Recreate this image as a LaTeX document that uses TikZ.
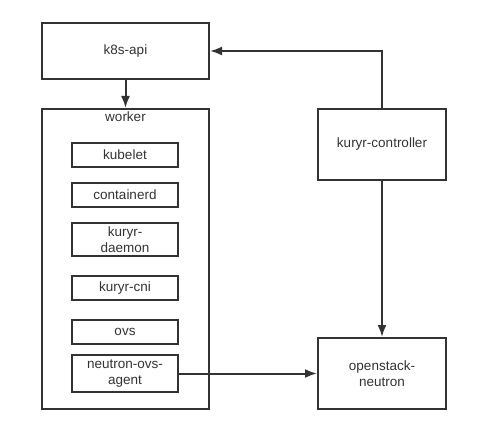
\documentclass[tikz,border=0pt]{standalone}
\usepackage{fontspec}
\setmainfont{Liberation Sans}
\usetikzlibrary{arrows.meta,positioning}
\definecolor{ink}{HTML}{333333}

\begin{document}
\begin{tikzpicture}[x=1pt, y=-1pt,
        main/.style = {draw=ink, line width=2pt, text=ink, align=center, inner sep=0pt,
                       font=\fontsize{13.5}{16}\selectfont},
        part/.style = {main, minimum width=106pt, minimum height=24pt},
        arr/.style = {-{Latex[length=12pt,width=9pt]}, draw=ink, line width=2pt}]
        \useasboundingbox (0,0) rectangle (482,433);
        \node[main, minimum width=167pt, minimum height=56pt] (api) at (125.5,51) {k8s-api};
        \node[main, minimum width=167pt, minimum height=300pt,
              label={[main, draw=none, anchor=north, inner sep=3pt]north:worker}] (worker) at (125.5,259) {};
        \node[part] (kubelet) at (125,155) {kubelet};
        \node[part] (containerd) at (125,195) {containerd};
        \node[part, minimum height=33pt] (daemon) at (125,239.5) {kuryr-\\daemon};
        \node[part] (cni) at (125,288) {kuryr-cni};
        \node[part] (ovs) at (125,332) {ovs};
        \node[part, minimum height=37pt] (agent) at (125,373.5) {neutron-ovs-\\agent};
        \node[main, minimum width=128pt, minimum height=71pt] (ctrl) at (382,144.5) {kuryr-controller};
        \node[main, minimum width=128pt, minimum height=71pt] (neutron) at (382,373.5) {openstack-\\neutron};
        \draw[arr] (api) -- (worker);
        \draw[arr] (ctrl.north) |- (api.east);
        \draw[arr] (ctrl) -- (neutron);
        \draw[arr] (agent) -- (neutron);
\end{tikzpicture}
\end{document}
